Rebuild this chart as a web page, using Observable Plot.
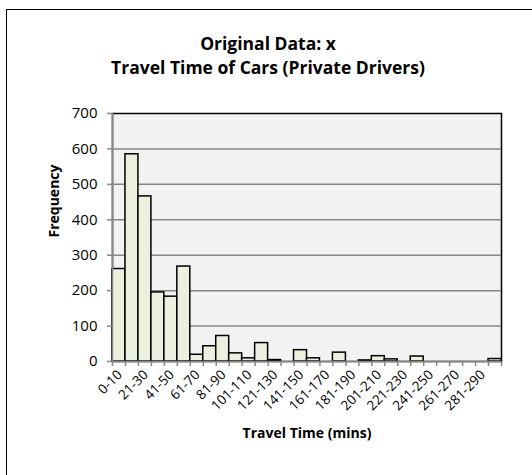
<!DOCTYPE html>
<html>
<head>
<meta charset="utf-8">
<script src="https://cdn.jsdelivr.net/npm/d3@7"></script>
<script src="https://cdn.jsdelivr.net/npm/@observablehq/plot@0.6"></script>
<style>
  html, body { margin: 0; padding: 0; background: #fff; }
  #chart { position: relative; width: 532px; height: 475px; font-family: "Open Sans", sans-serif; overflow: hidden; }
  #frame { position: absolute; left: 6px; top: 9px; width: 540px; height: 480px; border: 1.5px solid #000; box-sizing: border-box; }
  #title { position: absolute; left: 0; width: 536px; top: 31px; text-align: center; font-weight: bold; font-size: 17.5px; line-height: 24px; color: #000; }
  svg { position: absolute; left: 0; top: 0; }
</style>
</head>
<body>
<div id="chart">
  <div id="frame"></div>
  <div id="title">Original Data: x<br>Travel Time of Cars (Private Drivers)</div>
</div>
<script>
// Travel-time bins (minutes) and number of cars in each
const bins = ["0-10", "11-20", "21-30", "31-40", "41-50", "51-60", "61-70", "71-80",
  "81-90", "91-100", "101-110", "111-120", "121-130", "131-140", "141-150", "151-160",
  "161-170", "171-180", "181-190", "191-200", "201-210", "211-220", "221-230", "231-240",
  "241-250", "251-260", "261-270", "271-280", "281-290", "291-300"];
const frequency = [261, 585, 466, 195, 183, 268, 19, 43, 72, 23, 9, 52, 4, 0, 32, 9,
  0, 25, 0, 3, 15, 6, 0, 14, 0, 0, 0, 0, 0, 7];
const yTicks = [0, 100, 200, 300, 400, 500, 600, 700];

const data = bins.map((b, i) => ({bin: b, i, f: frequency[i]}));
const labelled = data.filter((d) => d.i % 2 === 0);

const axisGray = "#868686";

const plot = Plot.plot({
  width: 532,
  height: 475,
  marginLeft: 112,
  marginRight: 31,
  marginTop: 113,
  marginBottom: 114,
  style: {fontFamily: "Open Sans, sans-serif", fontSize: "14px", background: "transparent", overflow: "visible"},
  x: {domain: [0, bins.length], axis: null},
  y: {domain: [0, 700], axis: null},
  marks: [
    Plot.frame({fill: "#f2f2f2", stroke: "#000", strokeWidth: 1.5}),
    Plot.gridY({ticks: yTicks.filter((t) => t > 0 && t < 700), stroke: axisGray, strokeOpacity: 1, strokeWidth: 1.5}),
    Plot.rect(data.filter((d) => d.f > 0), {
      x1: "i", x2: (d) => d.i + 1, y1: 0, y2: "f",
      fill: "#ebf1de", stroke: "#000", strokeWidth: 1.5
    }),
    Plot.ruleX([0], {stroke: axisGray, strokeWidth: 1.5}),
    Plot.ruleY([0], {stroke: axisGray, strokeWidth: 1.5}),
    Plot.axisY({ticks: yTicks, tickSize: 5, stroke: axisGray, strokeWidth: 1.5, tickFormat: () => "", label: null}),
    Plot.axisY({ticks: yTicks, tickSize: 0, tickPadding: 15, fill: "#000", fontSize: 15, label: null}),
    Plot.axisX({ticks: d3.range(bins.length + 1), tickSize: 5, stroke: axisGray, strokeWidth: 1.5, tickFormat: () => "", label: null}),
    Plot.text(labelled, {
      x: (d) => d.i + 0.5, frameAnchor: "bottom", text: "bin",
      rotate: -45, textAnchor: "end", dx: 4, dy: 14, fontSize: 13.5, fill: "#000"
    }),
    Plot.text(["Frequency"], {
      frameAnchor: "left", dx: -58, rotate: -90, fontWeight: "bold", fontSize: 14, fill: "#000"
    }),
    Plot.text(["Travel Time (mins)"], {
      frameAnchor: "bottom", dy: 76, fontWeight: "bold", fontSize: 14, fill: "#000"
    })
  ]
});
document.getElementById("chart").appendChild(plot);
</script>
</body>
</html>
